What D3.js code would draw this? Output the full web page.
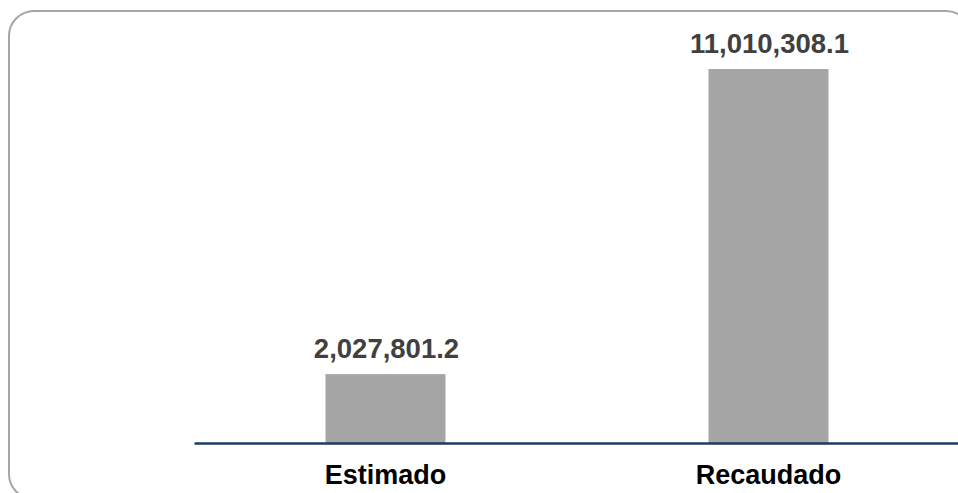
<!DOCTYPE html>
<html>
<head>
<meta charset="utf-8">
<script src="https://cdn.jsdelivr.net/npm/d3@7"></script>
<style>
  body { margin: 0; background: #fff; }
  svg { display: block; font-family: "Liberation Sans", Arial, sans-serif; }
</style>
</head>
<body>
<svg width="958" height="493"></svg>
<script>
var categories = ["Estimado", "Recaudado"];
var values = [2027801.2, 11010308.1];
var valueLabels = ["2,027,801.2", "11,010,308.1"];

var svg = d3.select("svg");

// rounded frame, runs off the right and bottom edges
svg.append("rect")
  .attr("x", 9).attr("y", 11)
  .attr("width", 962).attr("height", 488)
  .attr("rx", 25).attr("ry", 25)
  .attr("fill", "none")
  .attr("stroke", "#a6a6a6")
  .attr("stroke-width", 2);

var xScale = d3.scaleBand().domain(categories).range([194, 960]).padding(0);
var yScale = d3.scaleLinear().domain([0, d3.max(values)]).range([443, 69]);
var barWidth = 120;

var data = categories.map(function(c, i) { return {cat: c, val: values[i], label: valueLabels[i]}; });

svg.selectAll(".bar")
  .data(data)
  .enter()
  .append("rect")
  .attr("class", "bar")
  .attr("x", (d) => xScale(d.cat) + xScale.bandwidth() / 2 - barWidth / 2)
  .attr("y", (d) => yScale(d.val))
  .attr("width", barWidth)
  .attr("height", (d) => yScale(0) - yScale(d.val))
  .attr("fill", "#a5a5a5");

// value labels
svg.selectAll(".val")
  .data(data)
  .enter()
  .append("text")
  .attr("class", "val")
  .attr("x", (d) => xScale(d.cat) + xScale.bandwidth() / 2 + 1)
  .attr("y", (d) => yScale(d.val) - 16)
  .attr("text-anchor", "middle")
  .attr("font-size", "27.5px")
  .attr("font-weight", "bold")
  .attr("fill", "#404040")
  .text((d) => d.label);

// baseline axis
var axis = svg.append("g")
  .attr("transform", "translate(0," + yScale(0) + ")")
  .call(d3.axisBottom(xScale).tickSize(0).tickPadding(22));

axis.select(".domain")
  .attr("stroke", "#1f3864")
  .attr("stroke-width", 2.5);

axis.selectAll(".tick text")
  .attr("font-family", "Liberation Sans, Arial, sans-serif")
  .attr("font-size", "27px")
  .attr("font-weight", "bold")
  .attr("fill", "#000")
  .attr("dy", "0.71em");
</script>
</body>
</html>
